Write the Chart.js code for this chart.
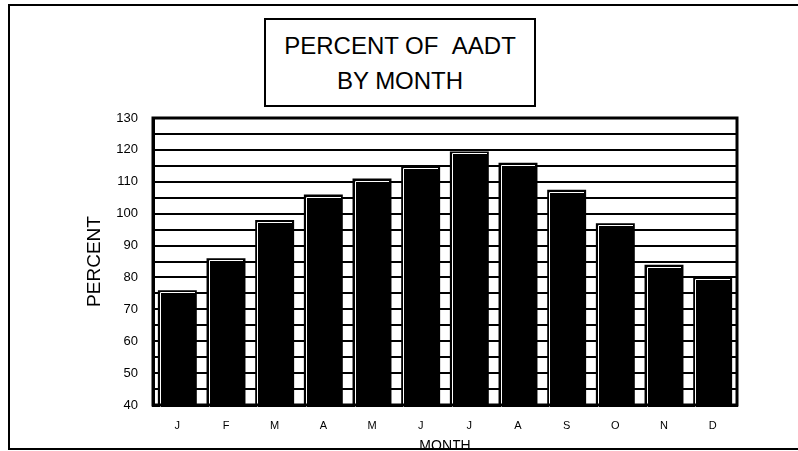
<!DOCTYPE html>
<html>
<head>
<meta charset="utf-8">
<script src="https://cdn.jsdelivr.net/npm/chart.js@4.4.1/dist/chart.umd.min.js"></script>
<style>
  html, body { margin: 0; padding: 0; background: #fff; }
  #wrap { position: relative; width: 798px; height: 451px; overflow: hidden;
          font-family: 'Liberation Sans', Arial, sans-serif; }
  #chartBox { position: absolute; left: 0; top: 0; width: 798px; height: 451px; }
  #frame { position: absolute; left: 8px; top: 4px; width: 800px; height: 442px;
           border-left: 2px solid #000; border-top: 2px solid #000; border-bottom: 2px solid #000;
           pointer-events: none; }
  #titleBox { position: absolute; left: 264px; top: 18px; width: 268px;
              border: 2px solid #000; background: #fff; text-align: center;
              font-size: 24px; line-height: 35px; padding-top: 8px; height: 77px; }
</style>
</head>
<body>
<div id="wrap">
  <div id="chartBox"><canvas id="aadtChart"></canvas></div>
  <div id="titleBox">PERCENT OF &nbsp;AADT<br>BY MONTH</div>
  <div id="frame"></div>
</div>
<script>
/* data */
const months = ['J', 'F', 'M', 'A', 'M', 'J', 'J', 'A', 'S', 'O', 'N', 'D'];
const percentOfAadt = [76, 86, 98, 106, 111, 115, 119.5, 116, 107.5, 97, 84, 80];
const yMin = 40;
const yMax = 130;
const yStep = 5;      // grid every 5, labels every 10
const yLabelStep = 10;

const FONT = "'Liberation Sans', Arial, sans-serif";

// white highlight on top/left of each bar, like the old plotter output
const barHighlight = {
  id: 'barHighlight',
  afterDatasetsDraw(chart) {
    const ctx = chart.ctx;
    const meta = chart.getDatasetMeta(0);
    ctx.save();
    ctx.strokeStyle = '#fff';
    ctx.lineWidth = 1;
    meta.data.forEach(bar => {
      const left = Math.round(bar.x - bar.width / 2);
      const right = Math.round(bar.x + bar.width / 2);
      const top = Math.round(bar.y);
      const base = Math.round(bar.base);
      ctx.beginPath();
      ctx.moveTo(left + 2.5, base - 1);
      ctx.lineTo(left + 2.5, top + 2.5);
      ctx.lineTo(right - 2, top + 2.5);
      ctx.stroke();
    });
    // box round the plot area
    const a = chart.chartArea;
    ctx.strokeStyle = '#000';
    ctx.lineWidth = 3;
    ctx.strokeRect(a.left, a.top, a.right - a.left, a.bottom - a.top);
    ctx.restore();
  }
};

const ctx = document.getElementById('aadtChart').getContext('2d');
new Chart(ctx, {
  type: 'bar',
  data: {
    labels: months,
    datasets: [{
      data: percentOfAadt,
      backgroundColor: '#000',
      borderWidth: 0,
      barPercentage: 0.8,
      categoryPercentage: 1.0
    }]
  },
  options: {
    responsive: true,
    maintainAspectRatio: false,
    animation: false,
    layout: { padding: { top: 118, right: 61, left: 0, bottom: 0 } },
    plugins: { legend: { display: false }, tooltip: { enabled: false }, title: { display: false } },
    scales: {
      x: {
        afterFit: s => { s.height = 46; },
        grid: { display: false, drawTicks: false },
        border: { display: true, color: '#000', width: 3 },
        ticks: { color: '#000', font: { family: FONT, size: 11 }, padding: 14, maxRotation: 0, autoSkip: false },
        title: { display: true, text: 'MONTH', color: '#000', font: { family: FONT, size: 14 }, padding: { top: 0, bottom: -4 } }
      },
      y: {
        min: yMin,
        max: yMax,
        afterFit: s => { s.width = 153; },
        grid: { color: '#000', lineWidth: 2, drawTicks: false },
        border: { display: true, color: '#000', width: 3 },
        ticks: {
          stepSize: yStep,
          autoSkip: false,
          color: '#000',
          font: { family: FONT, size: 13 },
          padding: 15,
          callback: v => (v % yLabelStep === 0 ? v : '')
        },
        title: { display: true, text: 'PERCENT', color: '#000', font: { family: FONT, size: 19 }, padding: { top: 83 } }
      }
    }
  },
  plugins: [barHighlight]
});
</script>
</body>
</html>
